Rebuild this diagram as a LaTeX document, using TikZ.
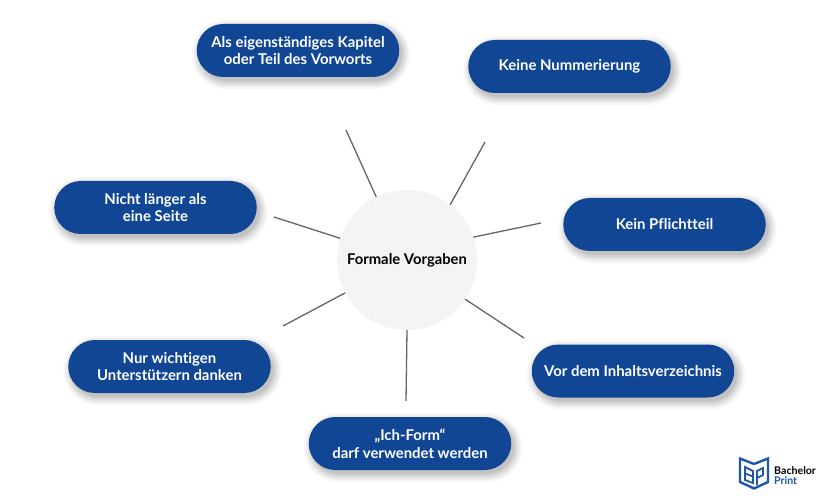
\documentclass[tikz,border=0pt]{standalone}
\usepackage{fontspec}
\setmainfont{Lato}[Ligatures=CommonOff]
\usetikzlibrary{shapes.misc,calc}
\definecolor{pillblue}{HTML}{114695}
\definecolor{logoblue}{HTML}{1F57A8}
\definecolor{spoke}{HTML}{666666}
\definecolor{disc}{HTML}{F4F4F4}
\tikzset{
  pill/.style={rounded rectangle,fill=pillblue,text=white,minimum width=202.5bp,minimum height=53bp,
    inner sep=0pt,align=center,font=\fontsize{14.9bp}{17.5bp}\selectfont\bfseries},
  hub/.style={circle,fill=disc,minimum size=140bp,inner sep=0pt,text=black,font=\fontsize{14.8bp}{18bp}\selectfont\bfseries},
  link/.style={draw=spoke,line width=1.3bp},
  logoline/.style={draw=logoblue,line width=2.4bp,line join=miter},
  logotext/.style={inner sep=0pt,anchor=west,font=\fontsize{10.6bp}{11bp}\selectfont\bfseries}
}
\begin{document}
\begin{tikzpicture}[x=1bp,y=-1bp]
\useasboundingbox (0,0) rectangle (825,500);
\fill[white] (0,0) rectangle (825,500);
% soft shadows of the pills
\foreach \px/\py in {298/50.5,569.5/66.5,664.5/224.5,633/371,410/443.5,169.5/366.5,155.5/207.5}{
  \foreach \d/\o in {8/.03,6/.04,4/.05,2/.06,0/.07}{
    \pgfmathsetmacro{\rr}{26.5+\d}
    \fill[black,fill opacity=\o,rounded corners=\rr bp]
      (\px-101.25-\d+3,\py-26.5-\d+4) rectangle (\px+101.25+\d+3,\py+26.5+\d+4);
  }
}
\node[hub] (c) at (407,260) {Formale Vorgaben};
\node[pill] (a1) at (298,50.5) {Als eigenständiges Kapitel\\oder Teil des Vorworts};
\node[pill] (a2) at (569.5,66.5) {Keine Nummerierung};
\node[pill] (a3) at (664.5,224.5) {Kein Pflichtteil};
\node[pill] (a4) at (633,371) {Vor dem Inhaltsverzeichnis};
\node[pill] (a5) at (410,443.5) {„Ich-Form“\\darf verwendet werden};
\node[pill] (a6) at (169.5,366.5) {Nur wichtigen\\Unterstützern danken};
\node[pill] (a7) at (155.5,207.5) {Nicht länger als\\eine Seite};
\coordinate (e1) at (346,130);
\coordinate (e2) at (485,142);
\coordinate (e3) at (541,223);
\coordinate (e4) at (524,338);
\coordinate (e5) at (406,401);
\coordinate (e6) at (283,326);
\coordinate (e7) at (274,217);
\draw[link] (c.116) -- (e1);
\draw[link] (c.52.5) -- (e2);
\draw[link] (c.19.7) -- (e3);
\draw[link] (c.-34.6) -- (e4);
\draw[link] (c.-90.8) -- (e5);
\draw[link] (c.208.7) -- (e6);
\draw[link] (c.162.6) -- (e7);
% logo
\draw[logoline] (754,464) -- (740,458.5) -- (740,482) -- (754,488.5) -- (768,482) -- (768,458.5) -- (754,464);
\draw[logoline,line width=1.8bp] (745,467) -- (745,480) -- (753,483) -- (753,471) -- cycle;
\draw[logoline,line width=1.8bp] (745,473.5) -- (753,476.5);
\draw[logoline,line width=1.8bp] (757,485) -- (757,471) -- (763,468) -- (763,475) -- (757,478);
\node[logotext,text=black] (l1) at (774,470.5) {Bachelor};
\node[logotext,text=logoblue] (l2) at (774,481) {Print};
\end{tikzpicture}
\end{document}
